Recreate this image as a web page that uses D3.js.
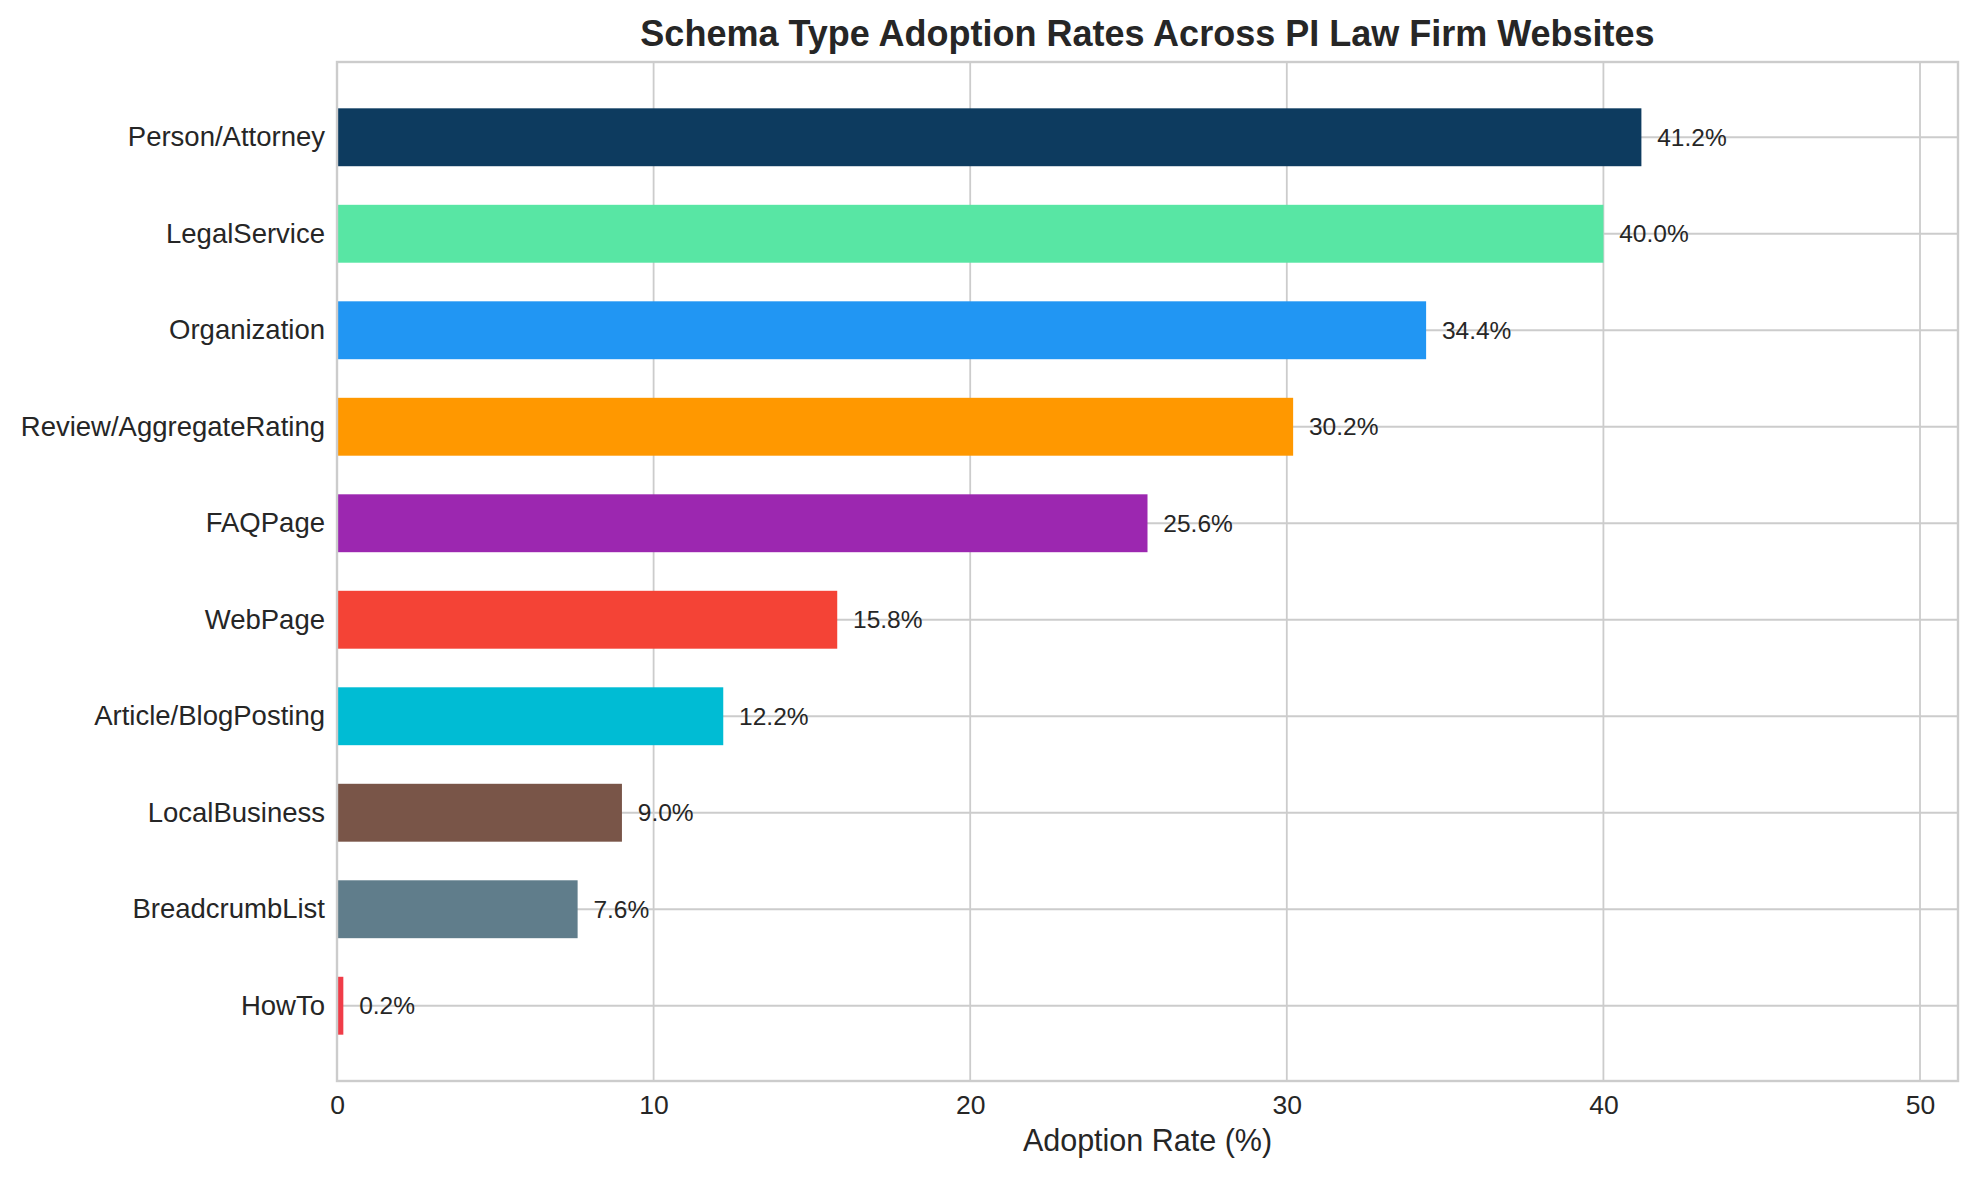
<!DOCTYPE html>
<html>
<head>
<meta charset="utf-8">
<script src="https://cdn.jsdelivr.net/npm/d3@7"></script>
<style>
  body { margin: 0; background: #fff; }
  text { font-family: "Liberation Sans", Arial, Helvetica, sans-serif; fill: #262626; }
</style>
</head>
<body>
<div id="vis"></div>
<script>
// schema types, top to bottom
const schemaTypes = [
  "Person/Attorney",
  "LegalService",
  "Organization",
  "Review/AggregateRating",
  "FAQPage",
  "WebPage",
  "Article/BlogPosting",
  "LocalBusiness",
  "BreadcrumbList",
  "HowTo"
];

// adoption rate in percent
const adoptionRates = [41.2, 40.0, 34.4, 30.2, 25.6, 15.8, 12.2, 9.0, 7.6, 0.2];

const barColours = [
  "#0d3b5f", "#58e6a4", "#2196f3", "#ff9800", "#9c27b0",
  "#f44336", "#00bcd4", "#795548", "#607d8b", "#f03c48"
];

const xTicks = [0, 10, 20, 30, 40, 50];

const width = 1978;
const height = 1177;
const margin = { top: 62, right: 20, bottom: 96, left: 337 };
const innerW = width - margin.left - margin.right;
const innerH = height - margin.top - margin.bottom;

const svg = d3.select("#vis")
  .append("svg")
  .attr("width", width)
  .attr("height", height);

// x limit sits 10 points past the largest value
const x = d3.scaleLinear()
  .domain([0, d3.max(adoptionRates) + 10])
  .range([0, innerW]);

const y = d3.scaleBand()
  .domain(schemaTypes)
  .range([0, innerH])
  .paddingInner(0.4)
  .paddingOuter(0.48);

const g = svg.append("g")
  .attr("transform", `translate(${margin.left},${margin.top})`);

// grid lines
g.append("g")
  .selectAll("line")
  .data(xTicks)
  .join("line")
  .attr("x1", d => x(d))
  .attr("x2", d => x(d))
  .attr("y1", 0)
  .attr("y2", innerH)
  .attr("stroke", "#cccccc")
  .attr("stroke-width", 1.8);

g.append("g")
  .selectAll("line")
  .data(schemaTypes)
  .join("line")
  .attr("x1", 0)
  .attr("x2", innerW)
  .attr("y1", d => y(d) + y.bandwidth() / 2)
  .attr("y2", d => y(d) + y.bandwidth() / 2)
  .attr("stroke", "#cccccc")
  .attr("stroke-width", 1.8);

const rows = schemaTypes.map((name, i) => ({
  name: name,
  value: adoptionRates[i],
  colour: barColours[i]
}));

// bars
g.append("g")
  .selectAll("rect")
  .data(rows)
  .join("rect")
  .attr("x", x(0))
  .attr("y", d => y(d.name))
  .attr("width", d => x(d.value) - x(0))
  .attr("height", y.bandwidth())
  .attr("fill", d => d.colour);

// value labels
g.append("g")
  .selectAll("text")
  .data(rows)
  .join("text")
  .attr("x", d => x(d.value + 0.5))
  .attr("y", d => y(d.name) + y.bandwidth() / 2)
  .attr("dy", "0.35em")
  .style("font-size", "24.5px")
  .text(d => d.value.toFixed(1) + "%");

// axes
const xAxis = g.append("g")
  .attr("transform", `translate(0,${innerH})`)
  .call(d3.axisBottom(x).tickValues(xTicks).tickSize(0).tickPadding(14));
xAxis.select(".domain").remove();
xAxis.selectAll("text").style("font-size", "26.5px").attr("fill", "#262626");

const yAxis = g.append("g")
  .call(d3.axisLeft(y).tickSize(0).tickPadding(12));
yAxis.select(".domain").remove();
yAxis.selectAll("text").style("font-size", "27.5px").attr("fill", "#262626");

// frame
g.append("rect")
  .attr("x", 0)
  .attr("y", 0)
  .attr("width", innerW)
  .attr("height", innerH)
  .attr("fill", "none")
  .attr("stroke", "#cccccc")
  .attr("stroke-width", 2.4);

// x label
svg.append("text")
  .attr("x", margin.left + innerW / 2)
  .attr("y", 1151)
  .attr("text-anchor", "middle")
  .style("font-size", "30.5px")
  .text("Adoption Rate (%)");

// title
svg.append("text")
  .attr("x", margin.left + innerW / 2)
  .attr("y", 46)
  .attr("text-anchor", "middle")
  .style("font-size", "36px")
  .style("font-weight", "bold")
  .text("Schema Type Adoption Rates Across PI Law Firm Websites");
</script>
</body>
</html>
